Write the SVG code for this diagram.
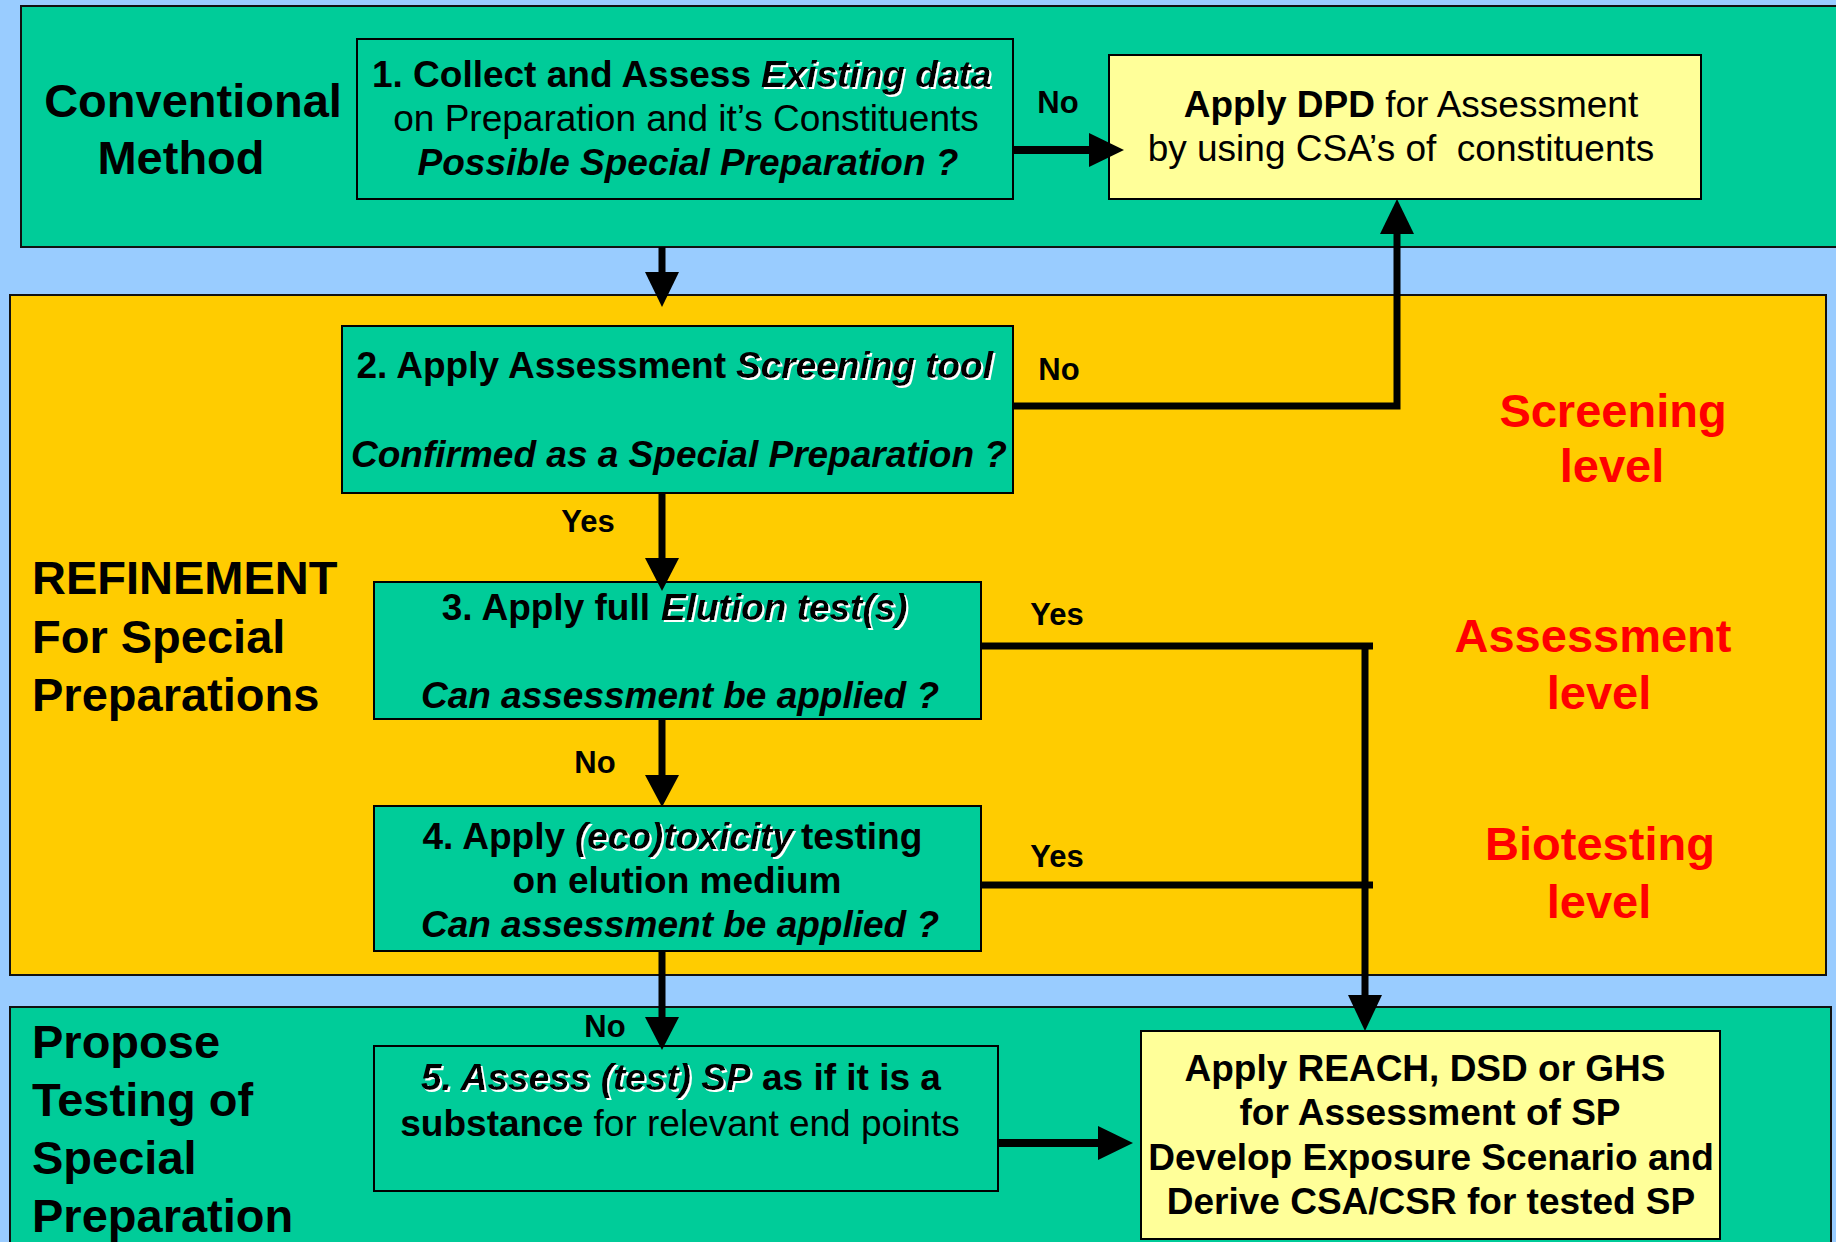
<svg xmlns="http://www.w3.org/2000/svg" width="1836" height="1242" viewBox="0 0 1836 1242">
  <style>
    .t { font-family: "Liberation Sans", Arial, Helvetica, sans-serif; fill: #000; }
    .b { font-weight: bold; }
    .i { font-style: italic; }
    .box { font-size: 37px; }
    .mid { text-anchor: middle; }
    .end { text-anchor: end; }
    .lbl { font-size: 31px; font-weight: bold; text-anchor: middle; }
    .big { font-size: 47px; font-weight: bold; }
    .lvl { font-size: 47px; font-weight: bold; fill: #FF0000; text-anchor: middle; }
    .panel { stroke: #111; stroke-width: 2; }
    .node { stroke: #000; stroke-width: 2; }
    .green { fill: #00CC99; }
    .yellow { fill: #FFFF99; }
    .orange { fill: #FFCC00; }
    .wire { fill: none; stroke: #000; stroke-width: 7; stroke-linejoin: miter; stroke-linecap: butt; }
    .wire8 { fill: none; stroke: #000; stroke-width: 8; }
    .head { fill: #000; }
  </style>
  <defs>
    <!-- white offset shadow used on the emphasised italic phrases -->
    <filter id="sh" x="-5%" y="-15%" width="115%" height="140%">
      <feFlood flood-color="#FFFFFF" result="f"/>
      <feComposite in="f" in2="SourceAlpha" operator="in" result="w"/>
      <feOffset in="w" dx="2" dy="2" result="o"/>
      <feMerge>
        <feMergeNode in="o"/>
        <feMergeNode in="SourceGraphic"/>
      </feMerge>
    </filter>
  </defs>

  <!-- page background -->
  <rect x="0" y="0" width="1836" height="1242" fill="#99CCFF"/>

  <!-- level panels -->
  <g id="panel-conventional">
    <rect class="panel green" x="21" y="6" width="1830" height="241"/>
    <text class="t big mid" x="193" y="117">Conventional</text>
    <text class="t big mid" x="181" y="174">Method</text>
  </g>
  <g id="panel-refinement">
    <rect class="panel orange" x="10" y="295" width="1816" height="680"/>
    <text class="t big" x="32" y="594">REFINEMENT</text>
    <text class="t big" x="32" y="653">For Special</text>
    <text class="t big" x="32" y="711">Preparations</text>
    <text class="t lvl" x="1613" y="427">Screening</text>
    <text class="t lvl" x="1612" y="482">level</text>
    <text class="t lvl" x="1593" y="652">Assessment</text>
    <text class="t lvl" x="1599" y="709">level</text>
    <text class="t lvl" x="1600" y="860">Biotesting</text>
    <text class="t lvl" x="1599" y="918">level</text>
  </g>
  <g id="panel-testing">
    <rect class="panel green" x="10" y="1007" width="1821" height="260"/>
    <text class="t big" x="32" y="1058">Propose</text>
    <text class="t big" x="32" y="1116">Testing of</text>
    <text class="t big" x="32" y="1174">Special</text>
    <text class="t big" x="32" y="1232">Preparation</text>
  </g>

  <!-- step 1 -->
  <g id="step1">
    <rect class="node green" x="357" y="39" width="656" height="160"/>
    <text class="t box b end" x="751" y="87">1. Collect and Assess</text>
    <text class="t box b i" x="761" y="87" filter="url(#sh)">Existing data</text>
    <text class="t box mid" x="686" y="131">on Preparation and it’s Constituents</text>
    <text class="t box b i mid" x="688" y="175">Possible Special Preparation ?</text>
  </g>

  <!-- DPD outcome -->
  <g id="apply-dpd">
    <rect class="node yellow" x="1109" y="55" width="592" height="144"/>
    <text class="t box mid" x="1411" y="117"><tspan class="b">Apply DPD</tspan> for Assessment</text>
    <text class="t box mid" x="1401" y="161">by using CSA’s of&#160; constituents</text>
  </g>

  <!-- step 2 -->
  <g id="step2">
    <rect class="node green" x="342" y="326" width="671" height="167"/>
    <text class="t box b end" x="726" y="378">2. Apply Assessment</text>
    <text class="t box b i" x="736" y="378" filter="url(#sh)">Screening tool</text>
    <text class="t box b i mid" x="679" y="467">Confirmed as a Special Preparation ?</text>
  </g>

  <!-- step 3 -->
  <g id="step3">
    <rect class="node green" x="374" y="582" width="607" height="137"/>
    <text class="t box b end" x="650" y="620">3. Apply full</text>
    <text class="t box b i" x="661" y="620" filter="url(#sh)">Elution test(s)</text>
    <text class="t box b i mid" x="680" y="708">Can assessment be applied ?</text>
  </g>

  <!-- step 4 -->
  <g id="step4">
    <rect class="node green" x="374" y="806" width="607" height="145"/>
    <text class="t box b end" x="565" y="849">4. Apply</text>
    <text class="t box b i" x="575" y="849" filter="url(#sh)">(eco)toxicity</text>
    <text class="t box b" x="801" y="849">testing</text>
    <text class="t box b mid" x="677" y="893">on elution medium</text>
    <text class="t box b i mid" x="680" y="937">Can assessment be applied ?</text>
  </g>

  <!-- step 5 -->
  <g id="step5">
    <rect class="node green" x="374" y="1046" width="624" height="145"/>
    <text class="t box b i" x="421" y="1090" filter="url(#sh)">5. Assess (test) SP</text>
    <text class="t box b" x="762" y="1090">as if it is a</text>
    <text class="t box mid" x="680" y="1136"><tspan class="b">substance</tspan> for relevant end points</text>
  </g>

  <!-- final outcome -->
  <g id="apply-reach">
    <rect class="node yellow" x="1141" y="1031" width="579" height="208"/>
    <text class="t box b mid" x="1425" y="1081">Apply REACH, DSD or GHS</text>
    <text class="t box b mid" x="1430" y="1125">for Assessment of SP</text>
    <text class="t box b mid" x="1431" y="1170">Develop Exposure Scenario and</text>
    <text class="t box b mid" x="1431" y="1214">Derive CSA/CSR for tested SP</text>
  </g>

  <!-- connectors -->
  <g id="connectors">
    <!-- 1 -> DPD (No) -->
    <line class="wire8" x1="1013" y1="150" x2="1091" y2="150"/>
    <polygon class="head" points="1089,133 1124,150 1089,167"/>
    <text class="t lbl" x="1058" y="113">No</text>

    <!-- conventional -> 2 -->
    <line class="wire" x1="662" y1="247" x2="662" y2="274"/>
    <polygon class="head" points="645,272 679,272 662,307"/>

    <!-- 2 -> DPD (No) -->
    <path class="wire" d="M1013,406 H1397 V232"/>
    <polygon class="head" points="1380,234 1414,234 1397,199"/>
    <text class="t lbl" x="1059" y="380">No</text>

    <!-- 2 -> 3 (Yes) -->
    <line class="wire" x1="662" y1="493" x2="662" y2="560"/>
    <polygon class="head" points="645,558 679,558 662,591"/>
    <text class="t lbl" x="588" y="532">Yes</text>

    <!-- 3 -> 4 (No) -->
    <line class="wire" x1="662" y1="719" x2="662" y2="777"/>
    <polygon class="head" points="645,775 679,775 662,807"/>
    <text class="t lbl" x="595" y="773">No</text>

    <!-- 4 -> 5 (No) -->
    <line class="wire" x1="662" y1="951" x2="662" y2="1019"/>
    <polygon class="head" points="645,1017 679,1017 662,1050"/>
    <text class="t lbl" x="605" y="1037">No</text>

    <!-- 3 -> REACH (Yes) -->
    <line class="wire" x1="982" y1="646" x2="1373" y2="646"/>
    <line class="wire" x1="1365" y1="643" x2="1365" y2="997"/>
    <polygon class="head" points="1348,995 1382,995 1365,1031"/>
    <text class="t lbl" x="1057" y="625">Yes</text>

    <!-- 4 -> REACH (Yes) -->
    <line class="wire" x1="982" y1="885" x2="1373" y2="885"/>
    <text class="t lbl" x="1057" y="867">Yes</text>

    <!-- 5 -> REACH -->
    <line class="wire8" x1="998" y1="1143" x2="1100" y2="1143"/>
    <polygon class="head" points="1098,1126 1133,1143 1098,1160"/>
  </g>
</svg>
